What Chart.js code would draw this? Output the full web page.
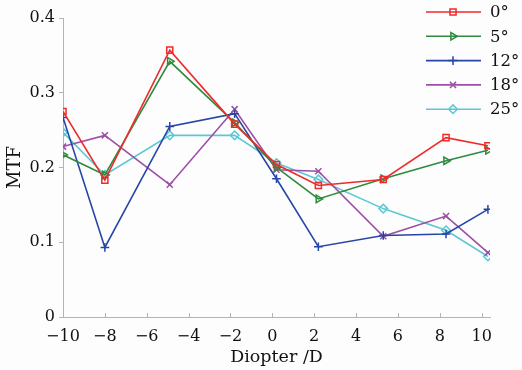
<!DOCTYPE html>
<html>
<head>
<meta charset="utf-8">
<script src="https://cdn.jsdelivr.net/npm/chart.js@4/dist/chart.umd.min.js"></script>
<style>
  html, body { margin: 0; padding: 0; background: #fdfdfd; }
  #wrap { width: 522px; height: 370px; }
</style>
</head>
<body>
<div id="wrap"><canvas id="chart" width="522" height="370"></canvas></div>
<script>
// diopter positions of the measured points
const diopters = [-10, -8, -4.9, -1.8, 0.2, 2.2, 5.3, 8.3, 10.3];

// MTF per field angle
const mtf0  = [0.275, 0.183, 0.357, 0.258, 0.204, 0.176, 0.184, 0.240, 0.229];
const mtf5  = [0.217, 0.190, 0.342, 0.260, 0.200, 0.158, 0.185, 0.209, 0.223];
const mtf12 = [0.267, 0.093, 0.255, 0.272, 0.185, 0.094, 0.109, 0.111, 0.144];
const mtf18 = [0.228, 0.243, 0.177, 0.278, 0.197, 0.195, 0.108, 0.135, 0.086];
const mtf25 = [0.247, 0.190, 0.243, 0.243, 0.206, 0.184, 0.145, 0.116, 0.081];

const seriesLabels = ['0°', '5°', '12°', '18°', '25°'];
const xTicks = [-10, -8, -6, -4, -2, 0, 2, 4, 6, 8, 10];
const yTicks = [0, 0.1, 0.2, 0.3, 0.4];

const serif = 'DejaVu Serif';
const axisGray = '#b4b4b4';

const styles = [
  { color: '#ee2a2a', point: 'rect', rot: 0 },
  { color: '#2f8a3e', point: 'triangle', rot: 90 },
  { color: '#2546a6', point: 'cross', rot: 0 },
  { color: '#9c4fa6', point: 'crossRot', rot: 0 },
  { color: '#5cc8d2', point: 'rectRot', rot: 0 }
];

const allSeries = [mtf0, mtf5, mtf12, mtf18, mtf25];

const datasets = allSeries.map((vals, i) => ({
  label: seriesLabels[i],
  data: vals.map((v, j) => ({ x: diopters[j], y: v })),
  borderColor: styles[i].color,
  backgroundColor: 'rgba(0,0,0,0)',
  pointBorderColor: styles[i].color,
  pointBackgroundColor: 'rgba(0,0,0,0)',
  pointStyle: styles[i].point,
  pointRotation: styles[i].rot,
  pointRadius: 4.3,
  pointBorderWidth: 1.5,
  borderWidth: 1.6,
  showLine: true,
  tension: 0
}));

function fmt(v) {
  return v < 0 ? '\u2212' + Math.abs(v) : String(v);
}

// small x ticks pointing into the plot, plus the legend at top right
const extras = {
  id: 'extras',
  afterDraw(chart) {
    const ctx = chart.ctx;
    const xs = chart.scales.x;
    const bottom = chart.chartArea.bottom;
    ctx.save();
    ctx.strokeStyle = axisGray;
    ctx.lineWidth = 1;
    xTicks.forEach(v => {
      const px = Math.round(xs.getPixelForValue(v)) + 0.5;
      ctx.beginPath();
      ctx.moveTo(px, bottom);
      ctx.lineTo(px, bottom - 4);
      ctx.stroke();
    });

    ctx.font = '16.5px "' + serif + '"';
    ctx.textBaseline = 'middle';
    ctx.textAlign = 'left';
    styles.forEach((s, i) => {
      const y = 12 + i * 24.3;
      ctx.strokeStyle = s.color;
      ctx.lineWidth = 1.6;
      ctx.beginPath();
      ctx.moveTo(426, y);
      ctx.lineTo(481, y);
      ctx.stroke();
      ctx.lineWidth = 1.5;
      ctx.fillStyle = 'rgba(0,0,0,0)';
      Chart.helpers.drawPoint(ctx, { pointStyle: s.point, rotation: s.rot, radius: 4.3, borderWidth: 1.5 }, 453, y);
      ctx.fillStyle = '#111';
      ctx.fillText(seriesLabels[i], 490, y + 1);
    });
    ctx.restore();
  }
};

new Chart(document.getElementById('chart'), {
  type: 'scatter',
  data: { datasets },
  plugins: [extras],
  options: {
    responsive: false,
    animation: false,
    layout: { padding: { left: 0, right: 32, top: 18, bottom: 0 } },
    plugins: {
      legend: { display: false },
      tooltip: { enabled: false }
    },
    scales: {
      x: {
        type: 'linear',
        min: -10,
        max: 10.4,
        afterBuildTicks: axis => { axis.ticks = xTicks.map(v => ({ value: v })); },
        afterFit: scale => { scale.height = 53; },
        border: { color: axisGray, width: 1 },
        grid: { drawOnChartArea: false, drawTicks: false },
        ticks: {
          padding: 10,
          color: '#111',
          font: { family: serif, size: 16 },
          maxRotation: 0,
          callback: v => fmt(v)
        },
        title: {
          display: true,
          text: 'Diopter /D',
          color: '#111',
          font: { family: serif, size: 17.5 },
          padding: { top: 0, bottom: 2 }
        }
      },
      y: {
        type: 'linear',
        min: 0,
        max: 0.4,
        afterBuildTicks: axis => { axis.ticks = yTicks.map(v => ({ value: v })); },
        afterFit: scale => { scale.width = 63; },
        border: { color: axisGray, width: 1 },
        grid: { drawOnChartArea: false, color: axisGray, tickLength: 4 },
        ticks: {
          padding: 4,
          color: '#111',
          font: { family: serif, size: 16 },
          callback: v => String(v)
        },
        title: {
          display: true,
          text: 'MTF',
          color: '#111',
          font: { family: serif, size: 18 },
          padding: { top: 5, bottom: 0 }
        }
      }
    }
  }
});
</script>
</body>
</html>
